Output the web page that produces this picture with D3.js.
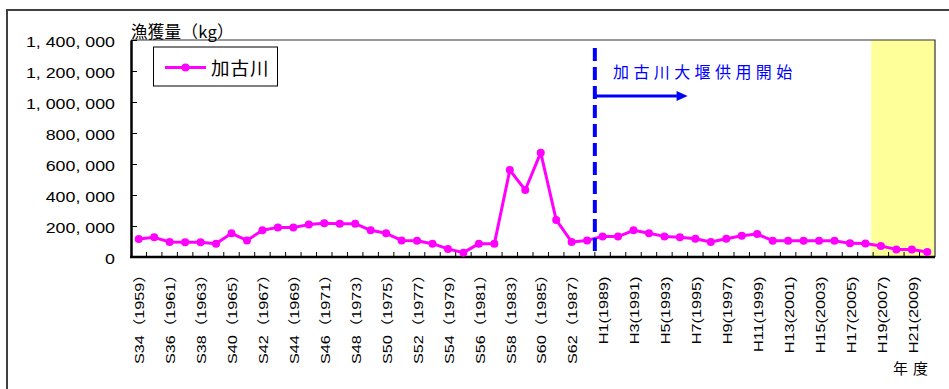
<!DOCTYPE html>
<html><head><meta charset="utf-8">
<script src="https://cdn.jsdelivr.net/npm/d3@7"></script>
<style>
html,body{margin:0;padding:0;background:#fff;}
svg{display:block;}
</style></head>
<body>
<script>
const years = d3.range(1959, 2011);
const catch_kg = [
  116000,127000,97000,95000,95000,86000,153000,107000,172000,191000,
  190000,209000,217000,215000,215000,172000,153000,107000,105000,86000,
  52000,28000,86000,85000,561000,432000,673000,239000,97000,107000,
  133000,132000,172000,153000,133000,127000,118000,97000,118000,137000,
  148000,105000,105000,105000,105000,105000,88000,87000,71000,49000,
  48000,32000
];
const xLabelYears = d3.range(1959, 2011, 2);
const xLabels = ["S34（1959）","S36（1961）","S38（1963）","S40（1965）","S42（1967）","S44（1969）",
  "S46（1971）","S48（1973）","S50（1975）","S52（1977）","S54（1979）","S56（1981）","S58（1983）",
  "S60（1985）","S62（1987）","H1(1989)","H3(1991)","H5(1993)","H7(1995)","H9(1997)",
  "H11(1999)","H13(2001)","H15(2003)","H17(2005)","H19(2007)","H21(2009)"];
const yTicks = [0,200000,400000,600000,800000,1000000,1200000,1400000];
const seriesName = "加古川";
const yTitle = "漁獲量（kg）";
const xTitle = "年度";
const damYear = 1989;
const arrowEndYear = 1995;
const damText = "加古川大堰供用開始";
const shadeFromYear = 2007;

const W = 949, H = 389;
const L = 131, R = 935, T = 40, B = 257;
const svg = d3.select("body").append("svg").attr("width", W).attr("height", H);

const x = d3.scaleBand().domain(years).range([L, R]).padding(0);
const y = d3.scaleLinear().domain([0, 1400000]).range([B, T]);
const cx = d => x(d) + x.bandwidth()/2;

// outer border
svg.append("rect").attr("x", 7).attr("y", 10).attr("width", 980).attr("height", 420)
  .attr("fill", "none").attr("stroke", "#404040").attr("stroke-width", 2);

// shaded region
svg.append("rect").attr("x", x(shadeFromYear) - 2).attr("y", T)
  .attr("width", R - x(shadeFromYear) + 2).attr("height", B - T)
  .attr("fill", "#FFFF99");

// plot frame top/right
svg.append("path").attr("d", `M${L},${T}H${R}V${B}`).attr("fill", "none")
  .attr("stroke", "#333").attr("stroke-width", 1.2);

// y axis
const sx = 1.15;
const yAxis = d3.axisLeft(y).tickValues(yTicks).tickSizeInner(-6).tickSizeOuter(0).tickPadding(16)
  .tickFormat(d => d3.format(",")(d).replace(/,/g, ", "));
const gy = svg.append("g").attr("transform", `translate(${L},0)`).call(yAxis);
gy.select(".domain").attr("stroke", "#000").attr("stroke-width", 2.5);
gy.selectAll(".tick line").attr("stroke", "#000").attr("stroke-width", 1);
gy.selectAll(".tick text")
  .style("font-family", "'Liberation Sans', Arial, sans-serif").style("font-size", "15.5px")
  .attr("fill", "#000").attr("dy", "0.4em")
  .attr("x", -16 / sx).attr("transform", `scale(${sx},1)`);

// x axis boundary ticks
svg.append("g").selectAll("line").data(years.slice(1)).join("line")
  .attr("x1", d => x(d)).attr("x2", d => x(d)).attr("y1", B).attr("y2", B - 5)
  .attr("stroke", "#000").attr("stroke-width", 1);
svg.append("line").attr("x1", L - 1).attr("x2", R).attr("y1", B).attr("y2", B)
  .attr("stroke", "#000").attr("stroke-width", 2.5);

// x labels
svg.append("g").selectAll("text").data(xLabelYears).join("text")
  .attr("transform", (d, i) => `translate(${cx(d) + 1},${xLabels[i].endsWith("）") ? 266.5 : 276.5}) rotate(-90) scale(1.25,1)`)
  .attr("text-anchor", "end").attr("dy", "0.36em")
  .style("font-family", "'Liberation Sans', 'Noto Sans CJK JP', sans-serif").style("font-size", "13px")
  .attr("fill", "#000")
  .text((d, i) => xLabels[i]);

// series
const line = d3.line().x((d, i) => cx(years[i])).y(d => y(d));
svg.append("path").datum(catch_kg).attr("d", line).attr("fill", "none")
  .attr("stroke", "#FF00FF").attr("stroke-width", 3).attr("stroke-linejoin", "round");
svg.append("g").selectAll("circle").data(catch_kg).join("circle")
  .attr("cx", (d, i) => cx(years[i])).attr("cy", d => y(d)).attr("r", 4)
  .attr("fill", "#FF00FF");

// dam line
svg.append("line").attr("x1", x(damYear)).attr("x2", x(damYear)).attr("y1", 48).attr("y2", B)
  .attr("stroke", "#0000FF").attr("stroke-width", 4).attr("stroke-dasharray", "13,6");
// arrow
const ax0 = x(damYear), ax1 = x(arrowEndYear);
svg.append("line").attr("x1", ax0).attr("x2", ax1 - 8).attr("y1", 96).attr("y2", 96)
  .attr("stroke", "#0000FF").attr("stroke-width", 3);
svg.append("path").attr("d", `M${ax1},96 L${ax1 - 11},91 L${ax1 - 11},101 Z`).attr("fill", "#0000FF");
svg.append("text").attr("x", 613).attr("y", 78)
  .style("font-family", "'Noto Sans CJK JP'").style("font-size", "16px").style("letter-spacing", "4.4px")
  .attr("fill", "#0000FF").text(damText);

// titles
svg.append("text").attr("x", 131).attr("y", 38)
  .style("font-family", "'Noto Sans CJK JP'").style("font-size", "16.5px").style("letter-spacing", "0.3px")
  .attr("fill", "#000").text(yTitle);
svg.append("text").attr("x", 893).attr("y", 374)
  .style("font-family", "'Noto Sans CJK JP'").style("font-size", "15px").style("letter-spacing", "5px")
  .attr("fill", "#000").text(xTitle);

// legend
const lg = svg.append("g");
lg.append("rect").attr("x", 153.5).attr("y", 47).attr("width", 124).attr("height", 39)
  .attr("fill", "#fff").attr("stroke", "#000").attr("stroke-width", 1);
lg.append("line").attr("x1", 165).attr("x2", 206).attr("y1", 67.5).attr("y2", 67.5)
  .attr("stroke", "#FF00FF").attr("stroke-width", 3);
lg.append("circle").attr("cx", 185.5).attr("cy", 67.5).attr("r", 4).attr("fill", "#FF00FF");
lg.append("text").attr("x", 211).attr("y", 75)
  .style("font-family", "'Noto Sans CJK JP'").style("font-size", "18.5px").style("letter-spacing", "1px")
  .attr("fill", "#000").text(seriesName);
</script>
</body></html>
